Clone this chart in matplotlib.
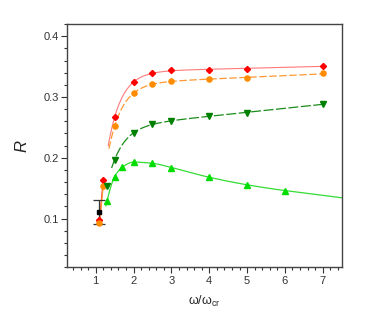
import numpy as np
import matplotlib.pyplot as plt
from matplotlib.ticker import MultipleLocator

plt.rcParams['font.family'] = ['Liberation Sans', 'DejaVu Sans']
plt.rcParams['mathtext.default'] = 'regular'

# upper branch data
x_red = [1.5, 2.0, 2.5, 3.0, 4.0, 5.0, 7.0]
r_red = [0.267, 0.324, 0.340, 0.3436, 0.3447, 0.3464, 0.351]
x_orange = [1.5, 2.0, 2.5, 3.0, 4.0, 5.0, 7.0]
r_orange = [0.252, 0.3058, 0.3217, 0.326, 0.3293, 0.331, 0.3387]
x_dkgreen = [1.5, 2.0, 2.5, 3.0, 4.0, 5.0, 7.0]
r_dkgreen = [0.197, 0.241, 0.2548, 0.2613, 0.268, 0.2745, 0.2882]
x_ltgreen = [1.3, 1.5, 1.7, 2.0, 2.5, 3.0, 4.0, 5.0, 6.0]
r_ltgreen = [0.129, 0.169, 0.1845, 0.193, 0.191, 0.184, 0.168, 0.1556, 0.1462]

# lower branch data
x_red_low = [1.1, 1.2]
r_red_low = [0.097, 0.163]
x_orange_low = [1.1, 1.2]
r_orange_low = [0.093, 0.154]
x_dkgreen_low = [1.3]
r_dkgreen_low = [0.154]
x_black = [1.1]
r_black = [0.1105]
err_black = [0.0195]

# range of the fitted curves
fit_range = {'red': (1.33, 7.0), 'orange': (1.35, 7.0), 'dkgreen': (1.42, 7.0), 'ltgreen': (1.27, 7.5)}


def fit_curve(x, y, xs):
    # R = a + d*x - b*exp(-c*(x-1)), c by grid search
    x = np.asarray(x); y = np.asarray(y)
    best = None
    for c in np.linspace(0.3, 10, 400):
        A = np.column_stack([np.ones_like(x), x, -np.exp(-c * (x - 1))])
        coef, res, _, _ = np.linalg.lstsq(A, y, rcond=None)
        err = np.sum((A @ coef - y) ** 2)
        if best is None or err < best[0]:
            best = (err, c, coef)
    _, c, (a, d, b) = best
    return a + d * xs - b * np.exp(-c * (xs - 1))


def pchip(x, y, xs):
    x = np.asarray(x, float); y = np.asarray(y, float)
    h = np.diff(x)
    delta = np.diff(y) / h
    n = len(x)
    d = np.zeros(n)
    for k in range(1, n - 1):
        if delta[k - 1] * delta[k] > 0:
            w1 = 2 * h[k] + h[k - 1]
            w2 = h[k] + 2 * h[k - 1]
            d[k] = (w1 + w2) / (w1 / delta[k - 1] + w2 / delta[k])
    d[0] = ((2 * h[0] + h[1]) * delta[0] - h[0] * delta[1]) / (h[0] + h[1])
    d[-1] = ((2 * h[-1] + h[-2]) * delta[-1] - h[-1] * delta[-2]) / (h[-1] + h[-2])
    idx = np.clip(np.searchsorted(x, xs) - 1, 0, n - 2)
    t = (xs - x[idx]) / h[idx]
    h00 = 2 * t**3 - 3 * t**2 + 1
    h10 = t**3 - 2 * t**2 + t
    h01 = -2 * t**3 + 3 * t**2
    h11 = t**3 - t**2
    out = h00 * y[idx] + h10 * h[idx] * d[idx] + h01 * y[idx + 1] + h11 * h[idx] * d[idx + 1]
    # linear beyond the last point
    beyond = xs > x[-1]
    out[beyond] = y[-1] + d[-1] * (xs[beyond] - x[-1])
    return out


fig = plt.figure(figsize=(3.74, 3.21), dpi=100)
ax = fig.add_axes([0.18, 0.1673, 0.7336, 0.7579])

# fitted curves
xs = np.linspace(*fit_range['red'], 300)
ax.plot(xs, fit_curve(x_red, r_red, xs), color='#ff7a7a', lw=0.8)
xs = np.linspace(*fit_range['orange'], 300)
ax.plot(xs, fit_curve(x_orange, r_orange, xs), color='#ff9933', lw=0.9, dashes=(6, 2))
xs = np.linspace(*fit_range['dkgreen'], 300)
ax.plot(xs, fit_curve(x_dkgreen, r_dkgreen, xs), color='#1a8c1a', lw=0.9, dashes=(8, 2))
xs = np.linspace(*fit_range['ltgreen'], 300)
ax.plot(xs, pchip(x_ltgreen, r_ltgreen, xs), color='#33dd33', lw=0.9)

# lower branch lines
ax.plot(x_red_low, r_red_low, color='#ff3030', lw=0.9)
ax.plot(x_orange_low, r_orange_low, color='#ff9933', lw=0.9)

# error bar
ax.errorbar(x_black, r_black, yerr=err_black, fmt='s', color='black', ms=3.2,
             ecolor='#333333', elinewidth=0.9, capsize=4, capthick=0.9, zorder=4)

# markers
ax.plot(x_red + x_red_low, r_red + r_red_low, 'D', color='red', ms=3.1, ls='none', zorder=5)
ax.plot(x_orange + x_orange_low, r_orange + r_orange_low, 'o', color='#ff8c00', ms=3.7, ls='none', zorder=5)
ax.plot(x_dkgreen + x_dkgreen_low, r_dkgreen + r_dkgreen_low, 'v', color='#008000', ms=4.0, ls='none', zorder=5)
ax.plot(x_ltgreen, r_ltgreen, '^', color='#00dd00', ms=4.0, ls='none', zorder=5)

ax.set_xlim(0.25, 7.5)
ax.set_ylim(0.02, 0.42)
ax.xaxis.set_major_locator(MultipleLocator(1))
ax.xaxis.set_minor_locator(MultipleLocator(0.2))
ax.yaxis.set_major_locator(MultipleLocator(0.1))
ax.yaxis.set_minor_locator(MultipleLocator(0.02))
ax.set_xticks([1, 2, 3, 4, 5, 6, 7])
ax.set_yticks([0.1, 0.2, 0.3, 0.4])
ax.tick_params(which='major', direction='out', length=4, width=0.8, color='#333333',
               labelsize=8, labelcolor='#333333', pad=2)
ax.tick_params(which='minor', direction='out', length=2.2, width=0.8, color='#333333')
for s in ax.spines.values():
    s.set_color('#444444')
    s.set_linewidth(1.0)

ax.set_xlabel(r'ω/ω$_{cr}$', fontsize=9, color='#222222', labelpad=6)
ax.set_ylabel('R', fontsize=12, style='italic', color='#222222', labelpad=10)

fig.savefig('out.png', dpi=100)
